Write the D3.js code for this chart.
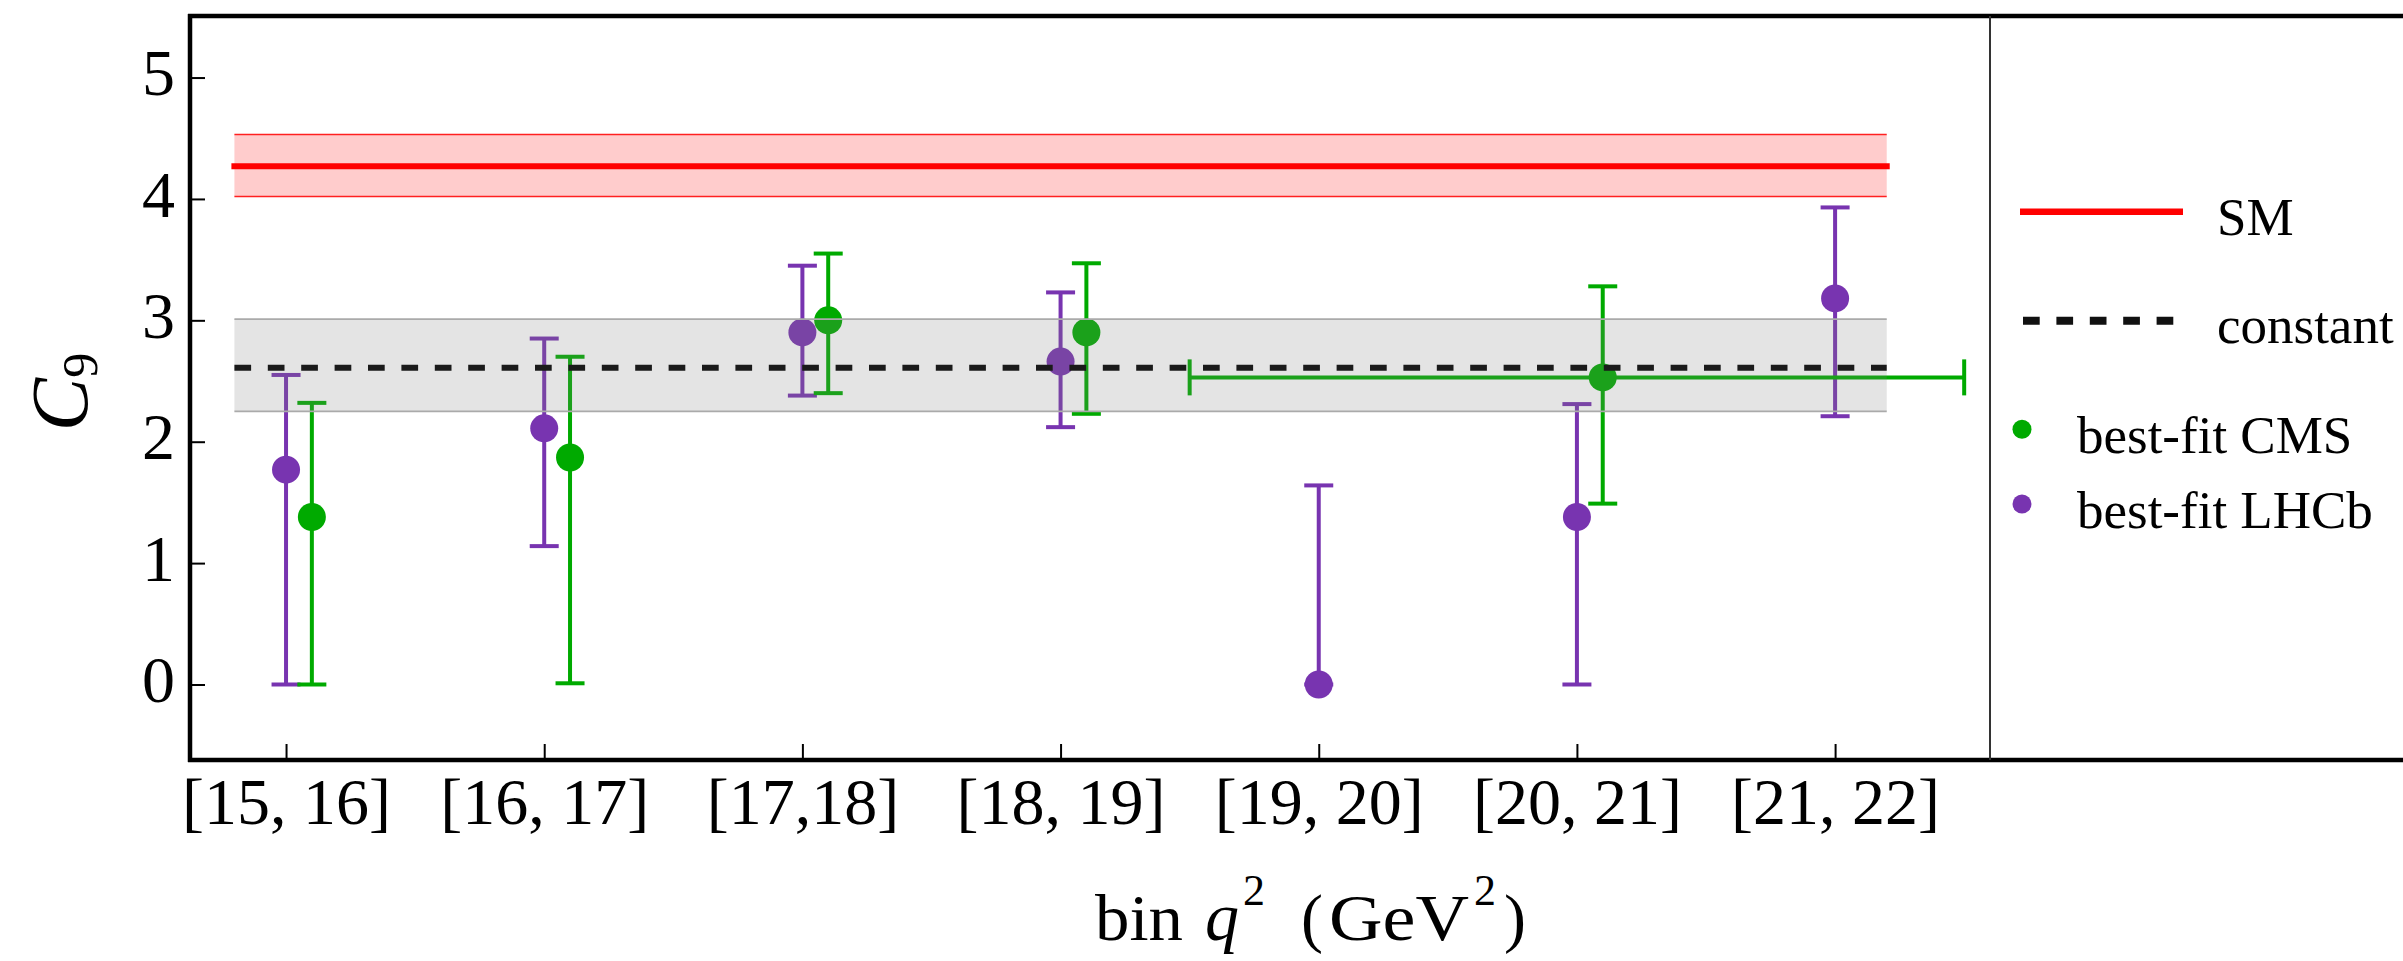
<!DOCTYPE html>
<html>
<head>
<meta charset="utf-8">
<script src="https://cdn.jsdelivr.net/npm/d3@7"></script>
<style>
  html, body { margin: 0; padding: 0; background: #ffffff; }
  svg { display: block; }
</style>
</head>
<body>
<div id="chart"></div>
<script>
// ---------------- data ----------------
const binLabels  = ["[15, 16]", "[16, 17]", "[17,18]", "[18, 19]", "[19, 20]", "[20, 21]", "[21, 22]"];
const binCenters = [15.5, 16.5, 17.5, 18.5, 19.5, 20.5, 21.5];

const lhcbValue = [1.77, 2.11, 2.90, 2.66, 0.00, 1.38, 3.18];
const lhcbLow   = [0.00, 1.14, 2.38, 2.12, 0.00, 0.00, 2.21];
const lhcbHigh  = [2.55, 2.85, 3.45, 3.23, 1.64, 2.31, 3.93];

const cmsValue  = [1.38, 1.87, 3.00, 2.90, null, 2.53, null];
const cmsLow    = [0.00, 0.01, 2.40, 2.23, null, 1.49, null];
const cmsHigh   = [2.32, 2.70, 3.55, 3.47, null, 3.28, null];

const cmsWideRange = [19, 22];   // horizontal CMS bar (q^2 range)
const cmsWideValue = 2.53;

const smValue    = 4.27;
const smBand     = [4.02, 4.53];
const constValue = 2.61;
const constBand  = [2.25, 3.01];
const bandRange  = [15.3, 21.7];

const yTicks = [0, 1, 2, 3, 4, 5];
const legendLabels = ["SM", "constant", "best-fit CMS", "best-fit LHCb"];

// ---------------- layout / style ----------------
const W = 2403, H = 961;
const pLeft = 190, pTop = 16, pBottom = 760, legendSep = 1990;
const purple = "#7834b0", green = "#00aa00", red = "#ff0000";
const serif = "'Liberation Serif', 'Times New Roman', serif";
const cmsShift = 0.1;

const svg = d3.select("#chart").append("svg")
  .attr("width", W).attr("height", H)
  .style("background", "#fff");

const x = d3.scaleLinear().domain([15.128, 22.1]).range([pLeft, legendSep]);
const y = d3.scaleLinear().domain([-0.622, 5.507]).range([pBottom, pTop]);

// ---------------- data marks ----------------
function drawSeries(vals, lo, hi, shift, color) {
  const g = svg.append("g");
  const idx = d3.range(vals.length).filter(i => vals[i] !== null);
  g.selectAll("line.v").data(idx).join("line")
    .attr("x1", i => x(binCenters[i] + shift)).attr("x2", i => x(binCenters[i] + shift))
    .attr("y1", i => y(lo[i])).attr("y2", i => y(hi[i]))
    .attr("stroke", color).attr("stroke-width", 4);
  [lo, hi].forEach(arr => {
    g.selectAll(null).data(idx).join("line")
      .attr("x1", i => x(binCenters[i] + shift) - 14.5)
      .attr("x2", i => x(binCenters[i] + shift) + 14.5)
      .attr("y1", i => y(arr[i])).attr("y2", i => y(arr[i]))
      .attr("stroke", color).attr("stroke-width", 4);
  });
  g.selectAll("circle").data(idx).join("circle")
    .attr("cx", i => x(binCenters[i] + shift))
    .attr("cy", i => y(vals[i]))
    .attr("r", 14).attr("fill", color);
  return g;
}
drawSeries(lhcbValue, lhcbLow, lhcbHigh, 0, purple);
const cmsG = drawSeries(cmsValue, cmsLow, cmsHigh, cmsShift, green);

// horizontal CMS bar
cmsG.append("line")
  .attr("x1", x(cmsWideRange[0])).attr("x2", x(cmsWideRange[1]))
  .attr("y1", y(cmsWideValue)).attr("y2", y(cmsWideValue))
  .attr("stroke", green).attr("stroke-width", 4);
cmsWideRange.forEach(v => {
  cmsG.append("line")
    .attr("x1", x(v)).attr("x2", x(v))
    .attr("y1", y(cmsWideValue) - 18).attr("y2", y(cmsWideValue) + 18)
    .attr("stroke", green).attr("stroke-width", 4);
});

// ---------------- bands and lines ----------------
function band(b, fill, op, edge, ew) {
  svg.append("rect")
    .attr("x", x(bandRange[0])).attr("width", x(bandRange[1]) - x(bandRange[0]))
    .attr("y", y(b[1])).attr("height", y(b[0]) - y(b[1]))
    .attr("fill", fill).attr("fill-opacity", op);
  b.forEach(v => svg.append("line")
    .attr("x1", x(bandRange[0])).attr("x2", x(bandRange[1]))
    .attr("y1", y(v)).attr("y2", y(v))
    .attr("stroke", edge).attr("stroke-width", ew));
}
band(smBand, red, 0.2, "#ff2020", 1.5);
band(constBand, "#808080", 0.21, "#aaaaaa", 1.8);

svg.append("line")
  .attr("x1", x(bandRange[0])).attr("x2", x(bandRange[1]))
  .attr("y1", y(smValue)).attr("y2", y(smValue))
  .attr("stroke", red).attr("stroke-width", 6).attr("stroke-linecap", "square");

svg.append("line")
  .attr("x1", x(bandRange[0])).attr("x2", x(bandRange[1]))
  .attr("y1", y(constValue)).attr("y2", y(constValue))
  .attr("stroke", "#1a1a1a").attr("stroke-width", 6)
  .attr("stroke-dasharray", "16.7 16.7");

// ---------------- axes ----------------
const yAxis = svg.append("g").attr("transform", `translate(${pLeft},0)`)
  .call(d3.axisLeft(y).tickValues(yTicks).tickSize(-15).tickPadding(15).tickFormat(d3.format("d")));
const xAxis = svg.append("g").attr("transform", `translate(0,${pBottom})`)
  .call(d3.axisBottom(x).tickValues(binCenters).tickSize(-16).tickPadding(17)
        .tickFormat((d, i) => binLabels[i]));
[yAxis, xAxis].forEach(a => {
  a.select(".domain").remove();
  a.selectAll(".tick line").attr("stroke", "#000").attr("stroke-width", 2);
  a.selectAll(".tick text").attr("fill", "#000")
    .style("font-family", serif).style("font-size", "66px");
});
yAxis.selectAll(".tick text").attr("dy", "0.26em");

// frame
svg.append("line").attr("x1", pLeft).attr("x2", pLeft).attr("y1", pTop - 2).attr("y2", pBottom + 2)
  .attr("stroke", "#000").attr("stroke-width", 4.5);
[pTop, pBottom].forEach(v => svg.append("line")
  .attr("x1", pLeft - 2).attr("x2", W).attr("y1", v).attr("y2", v)
  .attr("stroke", "#000").attr("stroke-width", 4.5));
svg.append("line").attr("x1", legendSep).attr("x2", legendSep).attr("y1", pTop).attr("y2", pBottom)
  .attr("stroke", "#333").attr("stroke-width", 2);

// ---------------- axis titles ----------------
const yt = svg.append("text")
  .attr("transform", "translate(87,392) rotate(-90)")
  .attr("text-anchor", "middle")
  .style("font-family", serif).attr("fill", "#000");
yt.append("tspan").text("C").style("font-style", "italic").style("font-size", "80px");
yt.append("tspan").text("9").attr("dy", 10).style("font-size", "50px");

const xt = svg.append("g").style("font-family", serif).attr("fill", "#000");
function piece(txt, px, py, size, italic, len) {
  const t = xt.append("text").attr("x", px).attr("y", py).text(txt)
    .style("font-size", size + "px");
  if (italic) t.style("font-style", "italic");
  if (len) t.attr("textLength", len).attr("lengthAdjust", "spacingAndGlyphs");
  return t;
}
piece("bin", 1095, 940, 66, false, 88);
piece("q", 1205, 940, 68, true);
piece("2", 1243, 905, 44, false);
piece("(", 1301, 940, 66, false);
piece("GeV", 1329, 940, 66, false, 140);
piece("2", 1474, 905, 44, false);
piece(")", 1504, 940, 66, false);

// ---------------- legend ----------------
const lg = svg.append("g").style("font-family", serif).style("font-size", "53px").attr("fill", "#000");
lg.append("line").attr("x1", 2020).attr("x2", 2183).attr("y1", 211.7).attr("y2", 211.7)
  .attr("stroke", red).attr("stroke-width", 6.5);
lg.append("text").attr("x", 2217).attr("y", 235).text(legendLabels[0]);
lg.append("line").attr("x1", 2023).attr("x2", 2174).attr("y1", 320.7).attr("y2", 320.7)
  .attr("stroke", "#111").attr("stroke-width", 8).attr("stroke-dasharray", "16.7 16.7");
lg.append("text").attr("x", 2217).attr("y", 343).text(legendLabels[1]);
lg.append("circle").attr("cx", 2022).attr("cy", 429.3).attr("r", 9.5).attr("fill", green);
lg.append("text").attr("x", 2077).attr("y", 453).text(legendLabels[2]);
lg.append("circle").attr("cx", 2022).attr("cy", 504).attr("r", 9.5).attr("fill", purple);
lg.append("text").attr("x", 2077).attr("y", 528).text(legendLabels[3]);
</script>
</body>
</html>
